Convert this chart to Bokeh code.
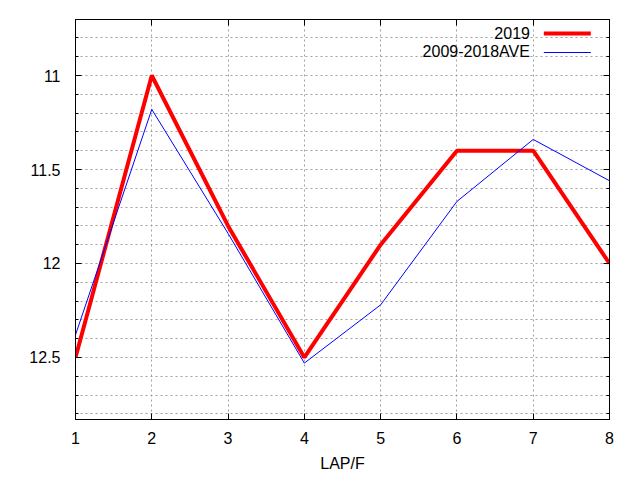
#!/usr/bin/env python3

from bokeh.plotting import figure
from bokeh.models import Range1d, FixedTicker, LinearAxis
from bokeh.core.properties import value
from bokeh.embed import file_html
from bokeh.resources import INLINE

laps = [1, 2, 3, 4, 5, 6, 7, 8]
times_2019 = [12.5, 11.0, 11.8, 12.5, 11.9, 11.4, 11.4, 12.0]
times_ave = [12.38, 11.18, 11.84, 12.53, 12.22, 11.67, 11.34, 11.56]
series_names = ["2019", "2009-2018AVE"]

x_ticks = [1, 2, 3, 4, 5, 6, 7, 8]
y_ticks = [11, 11.5, 12, 12.5]
y_tick_labels = ["11", "11.5", "12", "12.5"]
y_minor = [10.8, 10.9, 11.1, 11.2, 11.3, 11.4, 11.6, 11.7, 11.8, 11.9,
           12.1, 12.2, 12.3, 12.4, 12.6, 12.7, 12.8]

FONT = "Liberation Sans"
FSIZE = "16px"
x_lo, x_hi = 1, 8
y_top, y_bot = 10.702, 12.83

p = figure(frame_width=534, frame_height=400,
           x_range=Range1d(x_lo, x_hi), y_range=Range1d(y_bot, y_top),
           output_backend="svg", toolbar_location=None,
           min_border_left=75, min_border_right=31,
           min_border_top=19, min_border_bottom=61)
p.background_fill_color = "white"
p.border_fill_color = "white"
p.outline_line_color = "black"
p.outline_line_alpha = 1.0
p.outline_line_width = 1

# axes
p.xaxis.ticker = FixedTicker(ticks=x_ticks, minor_ticks=[])
p.yaxis.ticker = FixedTicker(ticks=y_ticks, minor_ticks=y_minor)
p.yaxis.major_label_overrides = dict(zip(y_ticks, y_tick_labels))
p.xaxis.axis_label = "LAP/F"
p.xaxis.axis_label_text_font_style = "normal"
p.xaxis.axis_label_text_font = FONT
p.xaxis.axis_label_text_font_size = FSIZE
p.xaxis.axis_label_text_color = "black"
p.xaxis.axis_label_standoff = 8
for ax in (p.xaxis, p.yaxis):
    ax.major_label_text_font = FONT
    ax.major_label_text_font_size = FSIZE
    ax.major_label_text_color = "black"
    ax.axis_line_color = "black"
    ax.major_tick_line_color = "black"
    ax.minor_tick_line_color = "black"
    ax.major_tick_out = 0
    ax.major_tick_in = 6
    ax.minor_tick_out = 0
    ax.minor_tick_in = 3
p.xaxis.major_label_standoff = 12
p.yaxis.major_label_standoff = 15

# mirrored ticks on top and right, no labels
top = LinearAxis(ticker=FixedTicker(ticks=x_ticks, minor_ticks=[]),
                 major_label_overrides={t: "" for t in x_ticks},
                 major_label_standoff=0,
                 major_tick_out=0, major_tick_in=6, axis_line_color="black")
right = LinearAxis(ticker=FixedTicker(ticks=y_ticks, minor_ticks=y_minor),
                   major_label_overrides={t: "" for t in y_ticks},
                   major_label_standoff=0,
                   major_tick_out=0, major_tick_in=6,
                   minor_tick_out=0, minor_tick_in=3, axis_line_color="black")
p.add_layout(top, "above")
p.add_layout(right, "right")

# dotted grid
for g in (p.xgrid, p.ygrid):
    g.grid_line_color = "#a0a0a0"
    g.grid_line_dash = "2 3"
    g.grid_line_width = 1
p.ygrid.minor_grid_line_color = "#a0a0a0"
p.ygrid.minor_grid_line_dash = "2 3"

p.line(laps, times_2019, line_color="#ff0000", line_width=4)
p.line(laps, times_ave, line_color="#0000ff", line_width=1)

# legend in gnuplot style: label on the left, sample on the right
def fx(f):
    return x_lo + f * (x_hi - x_lo)

def fy(f):
    return y_top + f * (y_bot - y_top)

leg_y = [fy(0.033), fy(0.079)]
p.text(x=[fx(0.851)] * 2, y=leg_y, text=series_names,
       text_font=value(FONT), text_font_size=FSIZE, text_color="black",
       text_align="right", text_baseline="middle")
p.segment(x0=[fx(0.877)], y0=[fy(0.035)], x1=[fx(0.965)], y1=[fy(0.035)],
          line_color="#ff0000", line_width=4)
p.segment(x0=[fx(0.877)], y0=[fy(0.0825)], x1=[fx(0.965)], y1=[fy(0.0825)],
          line_color="#0000ff", line_width=1)

open("out.html", "w").write(file_html(p, INLINE))
